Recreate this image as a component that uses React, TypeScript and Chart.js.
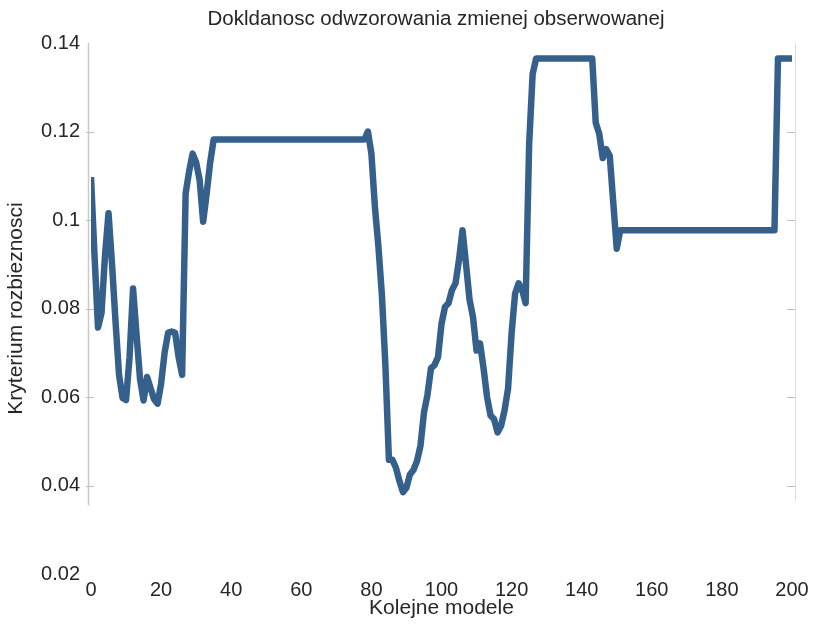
import React, { useEffect, useRef } from "react";
import { Chart, registerables } from "chart.js";

Chart.register(...registerables);

const chartTitle = "Dokldanosc odwzorowania zmienej obserwowanej";
const xAxisTitle = "Kolejne modele";
const yAxisTitle = "Kryterium rozbieznosci";

const xTickValues = [0, 20, 40, 60, 80, 100, 120, 140, 160, 180, 200];
const yTickValues = [0.02, 0.04, 0.06, 0.08, 0.1, 0.12, 0.14];
const yTickLabels = ["0.02", "0.04", "0.06", "0.08", "0.1", "0.12", "0.14"];

// model number (x) and criterion value (y)
const modelNo = [
  0, 1, 2, 3, 4, 5, 6, 7, 8, 9, 10, 11, 12, 13, 14, 15, 16, 17, 18, 19, 20,
  21, 22, 23, 24, 25, 26, 27, 28, 29, 30, 31, 32, 33, 34, 35,
  78, 79, 80, 81, 82, 83, 84, 85, 86, 87, 88, 89, 90, 91, 92, 93, 94, 95, 96,
  97, 98, 99, 100, 101, 102, 103, 104, 105, 106, 107, 108, 109, 110, 111, 112,
  113, 114, 115, 116, 117, 118, 119, 120, 121, 122, 123, 124, 125, 126, 127,
  143, 144, 145, 146, 147, 148, 149, 150, 151,
  195, 196, 200,
];
const criterion = [
  0.1097, 0.092, 0.0757, 0.079, 0.092, 0.1015, 0.09, 0.077, 0.065, 0.0598, 0.0593,
  0.069, 0.0845, 0.074, 0.064, 0.0592, 0.0645, 0.062, 0.0595, 0.0585, 0.063,
  0.07, 0.0745, 0.0748, 0.0745, 0.069, 0.065, 0.106, 0.111, 0.115, 0.113, 0.109,
  0.0996, 0.106, 0.113, 0.1182,
  0.1182, 0.12, 0.115, 0.103, 0.094, 0.083, 0.067, 0.0458, 0.0458, 0.044, 0.041,
  0.0385, 0.0395, 0.0425, 0.0435, 0.0455, 0.049, 0.0565, 0.0605, 0.0665, 0.0672,
  0.069, 0.0765, 0.0804, 0.0812, 0.0842, 0.0857, 0.091, 0.0977, 0.09, 0.082,
  0.078, 0.0705, 0.0721, 0.0665, 0.06, 0.0558, 0.055, 0.052, 0.0535, 0.057,
  0.062, 0.0744, 0.0834, 0.0857, 0.0842, 0.0812, 0.117, 0.133, 0.1365,
  0.1365, 0.122, 0.1195, 0.114, 0.116, 0.1145, 0.104, 0.0935, 0.0977,
  0.0977, 0.1365, 0.1365,
];

const FONT = "'Liberation Sans', Arial, Helvetica, sans-serif";
const TEXT = "#262626";
const LINE = "#36608c";

const decorPlugin = {
  id: "decor",
  beforeDatasetsDraw(chart: any) {
    const { ctx } = chart;
    const y = chart.scales.y;
    const top = y.getPixelForValue(0.14);
    ctx.save();
    ctx.lineWidth = 1.5;
    ctx.strokeStyle = "#c9c9c9";
    ctx.beginPath();
    ctx.moveTo(88.5, top);
    ctx.lineTo(88.5, y.getPixelForValue(0.0355));
    ctx.stroke();
    ctx.strokeStyle = "#dddddd";
    ctx.lineWidth = 1;
    ctx.beginPath();
    ctx.moveTo(795.5, top);
    ctx.lineTo(795.5, y.getPixelForValue(0.0365));
    ctx.stroke();
    ctx.strokeStyle = "#bdbdbd";
    ctx.lineWidth = 1;
    for (const v of yTickValues) {
      if (v < 0.03 || v > 0.13) continue;
      const py = Math.round(y.getPixelForValue(v)) + 0.5;
      ctx.beginPath();
      ctx.moveTo(86, py);
      ctx.lineTo(94, py);
      ctx.moveTo(787, py);
      ctx.lineTo(795, py);
      ctx.stroke();
    }
    ctx.restore();
  },
  afterDraw(chart: any) {
    const { ctx } = chart;
    ctx.save();
    ctx.fillStyle = TEXT;
    ctx.font = `20.5px ${FONT}`;
    ctx.textAlign = "center";
    ctx.textBaseline = "middle";
    ctx.fillText(chartTitle, 436, 19);
    ctx.restore();
  },
};

export default function App() {
  const ref = useRef<HTMLCanvasElement | null>(null);

  useEffect(() => {
    if (!ref.current) return;
    const points = modelNo.map((x, i) => ({ x, y: criterion[i] }));
    const chart = new Chart(ref.current, {
      type: "line",
      data: {
        datasets: [
          {
            data: points,
            borderColor: LINE,
            borderWidth: 6.5,
            borderJoinStyle: "round",
            borderCapStyle: "butt",
            pointRadius: 0,
            tension: 0,
            fill: false,
          },
        ],
      },
      options: {
        responsive: false,
        animation: false,
        events: [],
        layout: { padding: { top: 43, right: 24, left: 0, bottom: 0 } },
        plugins: {
          legend: { display: false },
          title: { display: false },
          tooltip: { enabled: false },
        },
        scales: {
          x: {
            type: "linear",
            min: 0,
            max: 200,
            afterFit: (s: any) => {
              s.height = 51;
            },
            afterBuildTicks: (s: any) => {
              s.ticks = xTickValues.map((v) => ({ value: v }));
            },
            grid: { display: false, drawTicks: false },
            border: { display: false },
            ticks: {
              padding: 4,
              maxRotation: 0,
              autoSkip: false,
              color: TEXT,
              font: { family: FONT, size: 20 },
              callback: (v: any) => String(v),
            },
            title: {
              display: true,
              text: xAxisTitle,
              color: TEXT,
              font: { family: FONT, size: 21 },
              padding: { top: 0, bottom: 4 },
            },
          },
          y: {
            type: "linear",
            min: 0.02,
            max: 0.14,
            afterFit: (s: any) => {
              s.width = 91;
            },
            afterBuildTicks: (s: any) => {
              s.ticks = yTickValues.map((v) => ({ value: v }));
            },
            grid: { display: false, drawTicks: false },
            border: { display: false },
            ticks: {
              padding: 11,
              autoSkip: false,
              color: TEXT,
              font: { family: FONT, size: 20 },
              callback: (v: any, i: number) => yTickLabels[i],
            },
            title: {
              display: true,
              text: yAxisTitle,
              color: TEXT,
              font: { family: FONT, size: 21 },
              padding: { top: 4, bottom: 0 },
            },
          },
        },
      },
      plugins: [decorPlugin],
    });
    return () => chart.destroy();
  }, []);

  return (
    <div style={{ position: "fixed", left: 0, top: 0, width: 816, height: 625, background: "#fff" }}>
      <canvas ref={ref} width={816} height={625} style={{ display: "block" }} />
    </div>
  );
}
